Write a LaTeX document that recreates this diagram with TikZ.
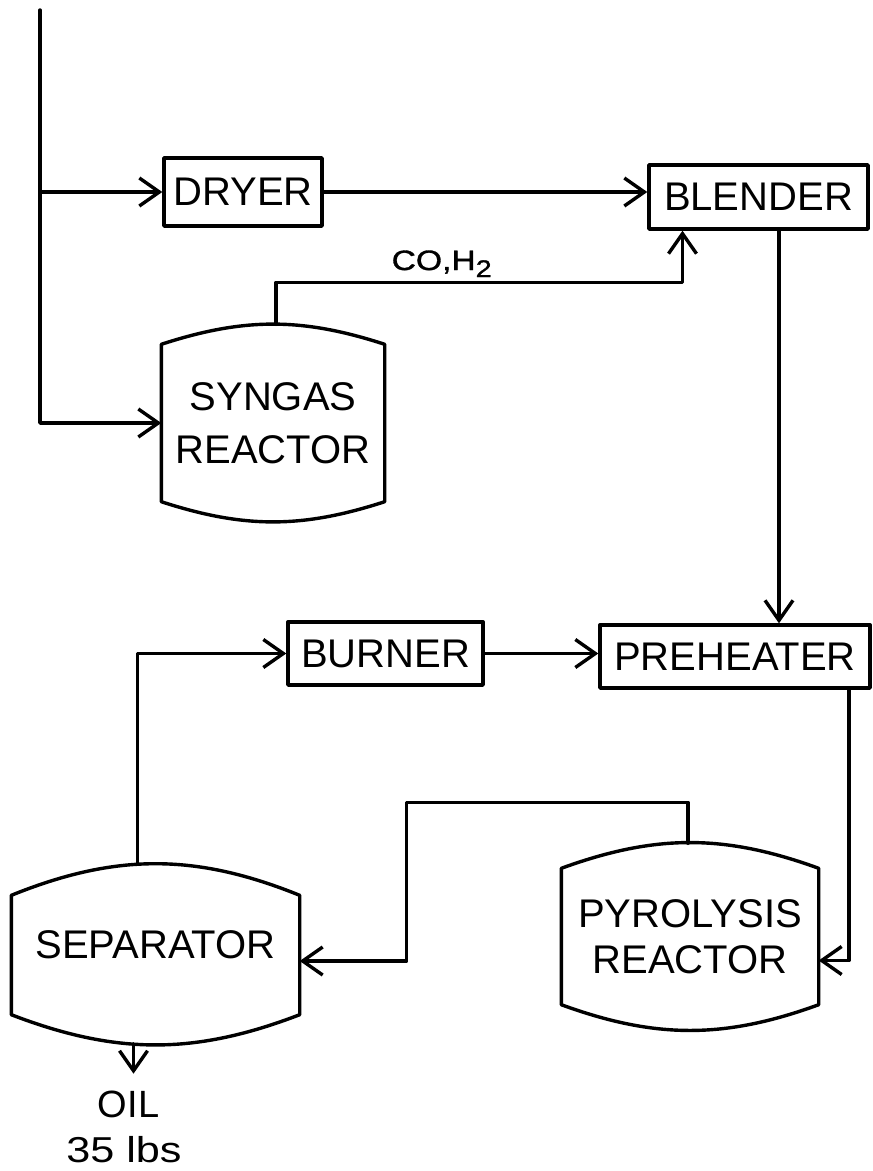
\documentclass[tikz,border=0pt]{standalone}
\usepackage{fontspec}
\setmainfont{Liberation Sans}
\newfontfamily\widefont[FakeStretch=1.2,FakeBold=1.2]{Liberation Sans}
\newfontfamily\numfont[FakeStretch=1.2]{Liberation Sans}
\usetikzlibrary{arrows.meta,calc}
\begin{document}
\begin{tikzpicture}[x=1pt,y=-1pt, line width=3.4pt, line cap=round, line join=round,
  arr/.style={-{Straight Barb[length=20pt,width=28pt,line width=3.4pt]}},
  box/.style={draw, rectangle, inner sep=0pt, font=\fontsize{40}{48}\selectfont},
  vessel/.style={inner sep=0pt, align=center},
  lbl/.style={inner sep=0pt}]
\useasboundingbox[fill=white] (0,0) rectangle (873,1171);

% boxes
\node[box, minimum width=158pt, minimum height=68pt] (dryer) at (243,192) {DRYER};
\node[box, minimum width=219pt, minimum height=64pt] (blender) at (758.5,197) {BLENDER};
\node[box, minimum width=195pt, minimum height=63pt] (burner) at (385.5,653.5) {BURNER};
\node[box, minimum width=270pt, minimum height=63pt] (preheater) at (735,656.5) {PREHEATER};

% vessels
\node[vessel, minimum width=220pt, minimum height=154pt, font=\fontsize{40}{53}\selectfont] (syn) at (273,423) {SYNGAS\\REACTOR};
\node[vessel, minimum width=254pt, minimum height=133pt, font=\fontsize{40}{46}\selectfont] (pyr) at (690,936.5) {PYROLYSIS\\REACTOR};
\node[vessel, minimum width=285pt, minimum height=116pt] (sep) at (155.5,955) {};
\node[lbl, font=\fontsize{40}{48}\selectfont] (septext) at ([yshift=10pt]sep.center) {SEPARATOR};

\draw (syn.north west) to[bend left=18] (syn.north east) -- (syn.south east) to[bend left=18] (syn.south west) -- cycle;
\draw (pyr.north west) to[bend left=20] (pyr.north east) -- (pyr.south east) to[bend left=20] (pyr.south west) -- cycle;
\draw (sep.north west) to[bend left=22] (sep.north east) -- (sep.south east) to[bend left=21] (sep.south west) -- cycle;

% labels
\node[lbl, anchor=base west, font=\widefont\fontsize{28}{28}\selectfont] (coh) at (390,270) {CO,H\raisebox{-7pt}{\fontsize{24}{24}\selectfont 2}};
\node[lbl, anchor=base, font=\fontsize{38}{38}\selectfont] (oil) at (128.5,1117) {OIL};
\node[lbl, anchor=base, font=\numfont\fontsize{36}{36}\selectfont] (lbs) at (124,1162) {35 lbs};

% coordinates
\coordinate (feed) at (40,10);
\coordinate (syntop) at ($(syn.north)+(3,-20)$);
\coordinate (bin) at ([xshift=-76pt]blender.south);
\coordinate (bout) at ([xshift=20.5pt]blender.south);
\coordinate (pout) at ([xshift=114pt]preheater.south);
\coordinate (pin) at ([yshift=-24pt]pyr.east);
\coordinate (pyrtop) at ($(pyr.north)+(-2,-25)$);
\coordinate (sin) at ([yshift=-6pt]sep.east);
\coordinate (septop) at ($(sep.north)+(-18,-32)$);
\coordinate (sepbot) at ($(sep.south)+(-22,29)$);

% connectors
\draw[arr] (feed) |- (syn.west);
\draw[arr] (feed |- dryer.west) -- (dryer.west);
\draw[arr] (dryer.east) -- (dryer.east -| blender.west);
\draw[arr] (syntop) -- ++(0,-42) -| (bin);
\draw[arr] (bout) -- (bout |- preheater.north);
\draw[arr] (burner.east) -- (burner.east -| preheater.west);
\draw[arr] (pout) |- (pin);
\draw[arr] (pyrtop) -- ++(0,-41) -| ($(sin)+(107,0)$) -- (sin);
\draw[arr] (septop) |- (burner.west);
\draw[arr] (sepbot) -- ++(0,30);
\end{tikzpicture}
\end{document}
